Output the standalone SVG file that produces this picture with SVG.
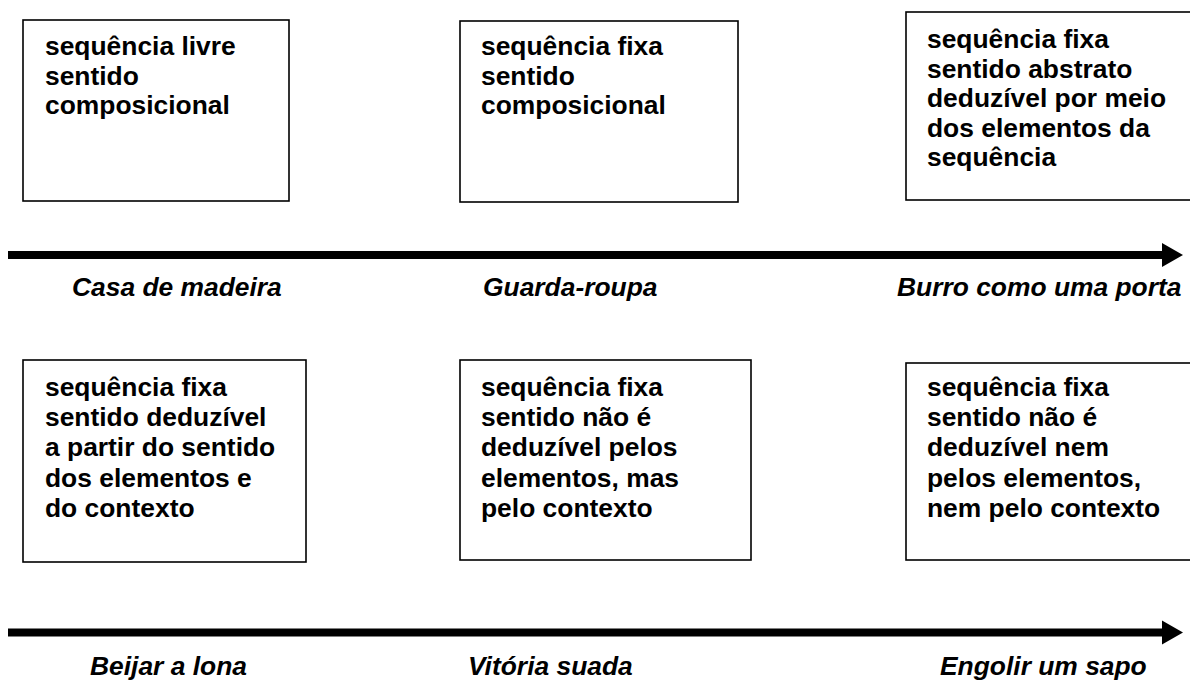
<svg xmlns="http://www.w3.org/2000/svg" width="1190" height="680" viewBox="0 0 1190 680">
<style>
.box{fill:#fff;stroke:#000;stroke-width:1.6}
.t{font-family:"Liberation Sans",Arial,sans-serif;font-weight:bold;font-size:26.4px;fill:#000}
.lbl{font-family:"Liberation Sans",Arial,sans-serif;font-weight:bold;font-style:italic;font-size:26.4px;fill:#000}
.shaft{stroke:#000;stroke-width:8;fill:none}
</style>
<rect width="1190" height="680" fill="#fff"/>
<g id="connectors">
<line class="shaft" x1="8" y1="255" x2="1164" y2="255"/>
<polygon points="1162,243 1183,255 1162,267" fill="#000"/>
<line class="shaft" x1="8" y1="632.5" x2="1164" y2="632.5"/>
<polygon points="1162,620.5 1183,632.5 1162,644.5" fill="#000"/>
</g>
<g id="box1">
<rect class="box" x="23" y="20" width="266" height="181"/>
<text class="t" x="45" y="55">sequência livre</text>
<text class="t" x="45" y="85">sentido</text>
<text class="t" x="45" y="114">composicional</text>
</g>
<g id="box2">
<rect class="box" x="460" y="21" width="278" height="181"/>
<text class="t" x="481" y="55">sequência fixa</text>
<text class="t" x="481" y="85">sentido</text>
<text class="t" x="481" y="114">composicional</text>
</g>
<g id="box3">
<rect class="box" x="906" y="12" width="300" height="188"/>
<text class="t" x="927" y="48">sequência fixa</text>
<text class="t" x="927" y="78">sentido abstrato</text>
<text class="t" x="927" y="107">deduzível por meio</text>
<text class="t" x="927" y="137">dos elementos da</text>
<text class="t" x="927" y="166">sequência</text>
</g>
<g id="label1"><text class="lbl" x="72" y="296">Casa de madeira</text></g>
<g id="label2"><text class="lbl" x="483" y="296">Guarda-roupa</text></g>
<g id="label3"><text class="lbl" x="897" y="296">Burro como uma porta</text></g>
<g id="box4">
<rect class="box" x="23" y="360" width="283" height="202"/>
<text class="t" x="45" y="396">sequência fixa</text>
<text class="t" x="45" y="426">sentido deduzível</text>
<text class="t" x="45" y="456">a partir do sentido</text>
<text class="t" x="45" y="487">dos elementos e</text>
<text class="t" x="45" y="517">do contexto</text>
</g>
<g id="box5">
<rect class="box" x="460" y="360" width="291" height="200"/>
<text class="t" x="481" y="396">sequência fixa</text>
<text class="t" x="481" y="426">sentido não é</text>
<text class="t" x="481" y="456">deduzível pelos</text>
<text class="t" x="481" y="487">elementos, mas</text>
<text class="t" x="481" y="517">pelo contexto</text>
</g>
<g id="box6">
<rect class="box" x="906" y="363" width="300" height="197"/>
<text class="t" x="927" y="396">sequência fixa</text>
<text class="t" x="927" y="426">sentido não é</text>
<text class="t" x="927" y="456">deduzível nem</text>
<text class="t" x="927" y="487">pelos elementos,</text>
<text class="t" x="927" y="517">nem pelo contexto</text>
</g>
<g id="label4"><text class="lbl" x="90" y="675">Beijar a lona</text></g>
<g id="label5"><text class="lbl" x="468" y="675">Vitória suada</text></g>
<g id="label6"><text class="lbl" x="940" y="675">Engolir um sapo</text></g>
</svg>
